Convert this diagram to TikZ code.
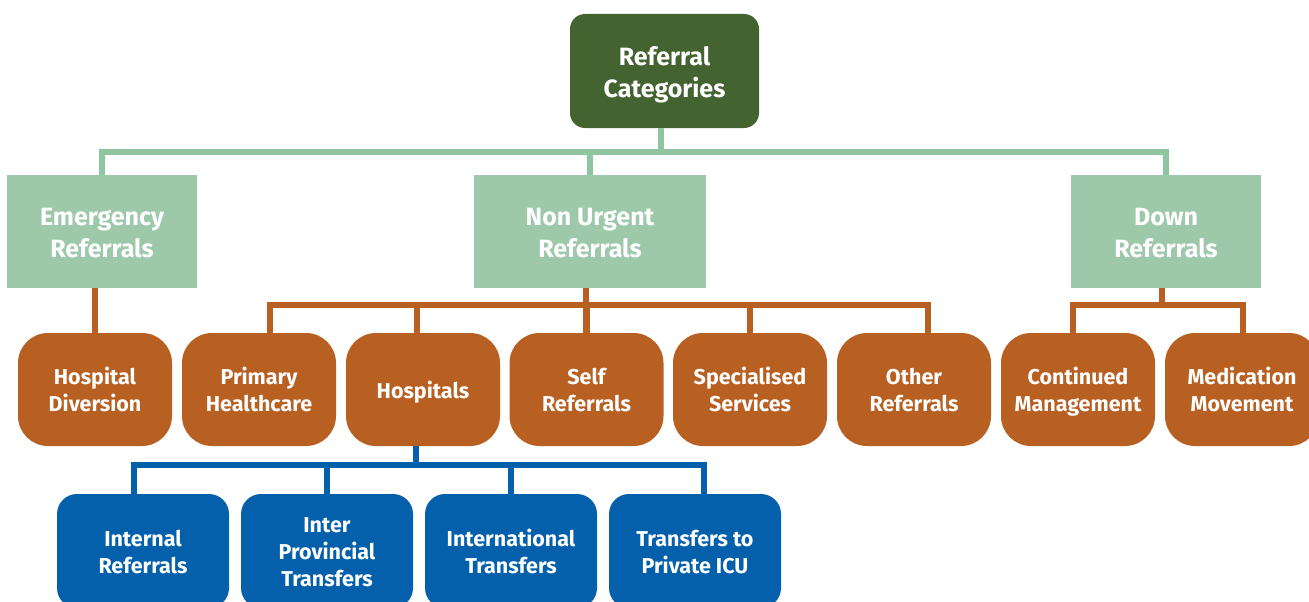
\documentclass[tikz,border=0pt]{standalone}
\usepackage{fontspec}
\setmainfont{Fira Sans}
\definecolor{rootg}{HTML}{436331}
\definecolor{lgfill}{HTML}{9DC9AA}
\definecolor{lgline}{HTML}{8FC5A0}
\definecolor{orng}{HTML}{B85F22}
\definecolor{blu}{HTML}{0460AB}
\newcommand\lowg{\vphantom{g}}
\newcommand\tstr{\rule{0pt}{1.05em}}
\tikzset{
  base/.style={inner sep=0pt, align=center, text=white, font=\bfseries},
  rootbox/.style={base, fill=rootg, rounded corners=15pt, minimum width=189pt, minimum height=114pt, font=\fontsize{25}{32}\selectfont\bfseries},
  catbox/.style={base, fill=lgfill, minimum height=113pt, font=\fontsize{25}{32}\selectfont\bfseries},
  subbox/.style={base, fill=orng, rounded corners=30pt, minimum width=154pt, minimum height=113pt, font=\fontsize{21.5}{27}\selectfont\bfseries},
  leafbox/.style={base, fill=blu, rounded corners=20pt, minimum width=172pt, minimum height=114pt, font=\fontsize{21.5}{27}\selectfont\bfseries},
  gline/.style={draw=lgline, line width=6.5pt},
  oline/.style={draw=orng, line width=6.5pt},
  bline/.style={draw=blu, line width=6pt}
}
\begin{document}
\begin{tikzpicture}[x=1pt,y=-1pt]
\useasboundingbox (0,0) rectangle (1309,602);
\clip (0,0) rectangle (1309,602);
% root
\node[rootbox] (root) at (664.5,71) {\tstr Referral\\Categories};
% categories
\node[catbox, minimum width=190pt] (emer) at (102,231.5) {\tstr Emergency\\Referrals\lowg};
\node[catbox, minimum width=232pt] (nonurg) at (590,231.5) {\tstr Non Urgent\\Referrals\lowg};
\node[catbox, minimum width=190pt] (down) at (1166,231.5) {\tstr Down\\Referrals\lowg};
% orange
\node[subbox] (hd) at (95,389.5) {\tstr Hospital\\Diversion\lowg};
\node[subbox] (prim) at (259,389.5) {\tstr Primary\\Healthcare\lowg};
\node[subbox] (hosp) at (423,389.5) {\tstr Hospitals\lowg};
\node[subbox] (self) at (586.5,389.5) {\tstr Self\\Referrals\lowg};
\node[subbox] (spec) at (750,389.5) {\tstr Specialised\\Services\lowg};
\node[subbox] (oth) at (914,389.5) {\tstr Other\\Referrals\lowg};
\node[subbox] (cont) at (1078,389.5) {\tstr Continued\\Management\lowg};
\node[subbox] (med) at (1242,389.5) {\tstr Medication\\Movement\lowg};
% blue
\node[leafbox] (intr) at (143,551) {\tstr Internal\\Referrals\lowg};
\node[leafbox] (inter) at (327,551) {\tstr Inter\\Provincial\\Transfers\lowg};
\node[leafbox] (intl) at (511,551) {\tstr International\\Transfers\lowg};
\node[leafbox] (tpi) at (695,551) {\tstr Transfers to\\Private ICU\lowg};
% green connectors
\coordinate (gb) at (661,152);
\draw[gline] ([xshift=-3.5pt]root.south) -- ([xshift=-3.5pt]root.south |- gb);
\draw[gline] (emer.north) |- (down.north |- gb) -- (down.north);
\draw[gline] (nonurg.north) -- (nonurg.north |- gb);
% orange connectors
\coordinate (ob) at (586,305);
\draw[oline] (hd.north) -- (hd.north |- emer.south);
\draw[oline] ([xshift=-4pt]nonurg.south) -- ([xshift=-4pt]nonurg.south |- ob);
\draw[oline] ([xshift=11pt]prim.north) |- ([xshift=14pt]oth.north |- ob) -- ([xshift=14pt]oth.north);
\draw[oline] ([xshift=-6pt]hosp.north) -- ([xshift=-6pt]hosp.north |- ob);
\draw[oline] (self.north) -- (self.north |- ob);
\draw[oline] (spec.north) -- (spec.north |- ob);
\coordinate (db) at (1162,305);
\draw[oline] ([xshift=-4pt]down.south) -- ([xshift=-4pt]down.south |- db);
\draw[oline] ([xshift=-5pt]cont.north) |- ([xshift=1pt]med.north |- db) -- ([xshift=1pt]med.north);
% blue connectors
\coordinate (bb) at (416,465);
\draw[bline] ([xshift=-7pt]hosp.south) -- ([xshift=-7pt]hosp.south |- bb);
\draw[bline] ([xshift=-9pt]intr.north) |- ([xshift=9pt]tpi.north |- bb) -- ([xshift=9pt]tpi.north);
\draw[bline] (inter.north) -- (inter.north |- bb);
\draw[bline] (intl.north) -- (intl.north |- bb);
\end{tikzpicture}
\end{document}
